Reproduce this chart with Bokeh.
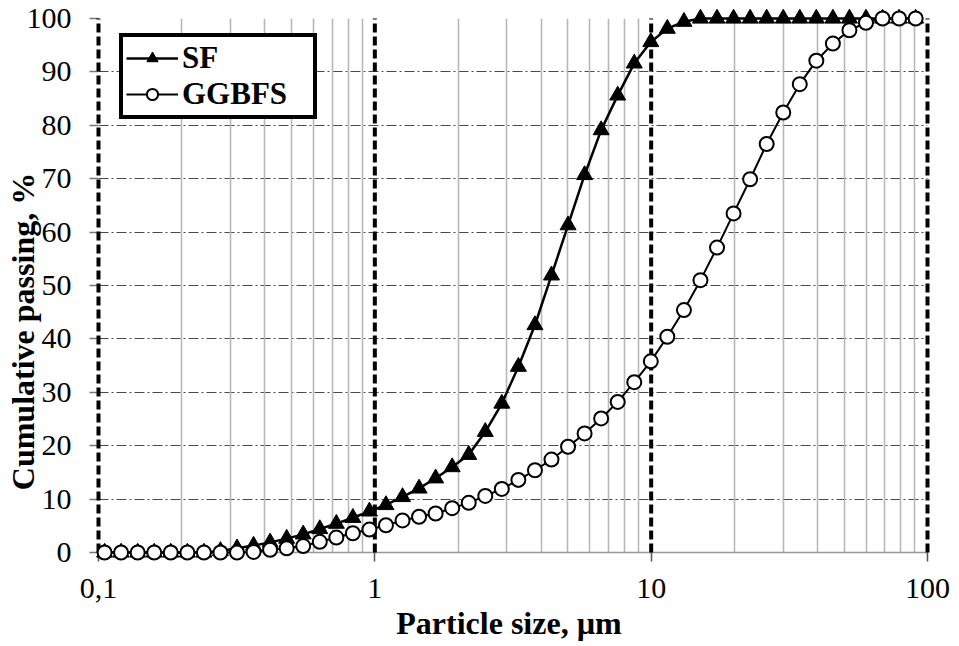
import math
from bokeh.plotting import figure
from bokeh.models import (FixedTicker, CustomJSTickFormatter, Legend, LegendItem, Range1d)
from bokeh.core.properties import value
from bokeh.embed import file_html
from bokeh.resources import INLINE

# Particle size (µm)
size_um = [0.1052, 0.1207, 0.1386, 0.1591, 0.1826, 0.2097, 0.2407, 0.2763, 0.3171, 0.3640,
           0.4178, 0.4797, 0.5506, 0.6321, 0.7256, 0.8327, 0.9559, 1.0972, 1.2595, 1.4457,
           1.6596, 1.905, 2.1867, 2.510, 2.881, 3.307, 3.797, 4.358, 5.003, 5.742,
           6.592, 7.567, 8.686, 9.970, 11.44, 13.14, 15.08, 17.31, 19.87, 22.81,
           26.18, 30.06, 34.50, 39.60, 45.46, 52.18, 59.90, 68.76, 78.93, 90.60]

# Cumulative passing (%)
sf_passing = [0, 0, 0, 0, 0, 0, 0, 0.3, 0.8, 1.3,
              1.9, 2.6, 3.4, 4.4, 5.4, 6.5, 7.7, 8.9, 10.4, 12.0,
              13.9, 16.0, 18.3, 22.6, 27.9, 34.8, 42.6, 51.9, 61.3, 70.7,
              79.1, 85.6, 91.6, 95.6, 98.1, 99.4, 100, 100, 100, 100,
              100, 100, 100, 100, 100, 100, 100, 100, 100, 100]

ggbfs_passing = [0, 0, 0, 0, 0, 0, 0, 0, 0, 0.1,
                 0.5, 0.8, 1.2, 2.0, 2.8, 3.6, 4.3, 5.1, 6.0, 6.7,
                 7.3, 8.3, 9.3, 10.6, 11.9, 13.6, 15.4, 17.4, 19.8, 22.3,
                 25.1, 28.2, 31.9, 35.8, 40.4, 45.4, 51.0, 57.1, 63.5, 69.9,
                 76.5, 82.4, 87.7, 92.1, 95.3, 97.8, 99.2, 100, 100, 100]

x_major_ticks = [0.1, 1, 10, 100]
x_minor_ticks = [0.2, 0.3, 0.4, 0.5, 0.6, 0.7, 0.8, 0.9,
                 2, 3, 4, 5, 6, 7, 8, 9,
                 20, 30, 40, 50, 60, 70, 80, 90]
y_ticks = [0, 10, 20, 30, 40, 50, 60, 70, 80, 90, 100]

x_title = "Particle size, µm"
y_title = "Cumulative passing, %"

SERIF = "Liberation Serif"

x_lo, x_hi = x_major_ticks[0], x_major_ticks[-1]
y_lo, y_hi = y_ticks[0], y_ticks[-1]

p = figure(width=959, height=646, x_axis_type="log",
           x_range=Range1d(x_lo, x_hi), y_range=Range1d(y_lo, y_hi),
           output_backend="svg", toolbar_location=None,
           min_border_left=98, min_border_right=32, min_border_top=18, min_border_bottom=94)
p.outline_line_color = None
p.background_fill_color = "white"
p.border_fill_color = "white"

xticker = FixedTicker(ticks=x_major_ticks, minor_ticks=x_minor_ticks)
yticker = FixedTicker(ticks=y_ticks)

# grids
p.xgrid.ticker = xticker
p.xgrid.grid_line_color = None
p.xgrid.minor_grid_line_color = "#b8b8b8"
p.xgrid.minor_grid_line_width = 1.6

p.ygrid.ticker = yticker
p.ygrid.grid_line_color = "#4a4a4a"
p.ygrid.grid_line_width = 1
p.ygrid.grid_line_dash = "10 3 2 3"

xg = p.xgrid[0]
yg = p.ygrid[0]
p.center = [yg, xg] + [r for r in p.center if r not in (xg, yg)]

# thick dashed lines at each decade (drawn below the series)
p.segment(x0=x_major_ticks, x1=x_major_ticks,
          y0=[y_lo] * len(x_major_ticks), y1=[y_hi] * len(x_major_ticks),
          line_color="black", line_width=4, line_dash="9 4", level="overlay")

# x axis
xa = p.xaxis[0]
xa.ticker = xticker
xa.formatter = CustomJSTickFormatter(code="return tick.toString().replace('.', ',');")
xa.minor_tick_line_color = None
xa.major_tick_in = 0
xa.major_tick_out = 9
xa.major_tick_line_color = "#555555"
xa.major_tick_line_width = 1.5
xa.axis_line_color = "#999999"
xa.axis_line_width = 1.5
xa.major_label_text_font = SERIF
xa.major_label_text_font_size = "30px"
xa.major_label_text_color = "black"
xa.major_label_standoff = 17

# y axis
ya = p.yaxis[0]
ya.ticker = yticker
ya.minor_tick_line_color = None
ya.major_tick_in = 0
ya.major_tick_out = 9
ya.major_tick_line_color = "#777777"
ya.major_tick_line_width = 1.5
ya.axis_line_color = None
ya.major_label_text_font = SERIF
ya.major_label_text_font_size = "30px"
ya.major_label_text_color = "black"
ya.major_label_standoff = 18

# axis titles (text glyphs anchored to the frame; the y title sits below centre)
x_mid = 10 ** ((math.log10(x_lo) + math.log10(x_hi)) / 2)
y_mid = (y_lo + y_hi) / 2
p.text(x=[x_mid], y=[y_lo], text=[x_title], x_offset=-4, y_offset=70,
       text_align="center", text_baseline="middle",
       text_font=value(SERIF), text_font_style="bold", text_font_size="32px",
       text_color="black", level="overlay")
p.text(x=[x_lo], y=[y_mid], text=[y_title], x_offset=-76, y_offset=46,
       angle=math.pi / 2, text_align="center", text_baseline="middle",
       text_font=value(SERIF), text_font_style="bold", text_font_size="32px",
       text_color="black", level="overlay")

# series
sf_line = p.line(size_um, sf_passing, line_color="black", line_width=2.5, level="overlay")
sf_pts = p.scatter(size_um, sf_passing, marker="triangle", size=16,
                   fill_color="black", line_color="black", line_width=1, level="overlay")
gg_line = p.line(size_um, ggbfs_passing, line_color="black", line_width=2, level="overlay")
gg_pts = p.scatter(size_um, ggbfs_passing, marker="circle", size=14,
                   fill_color="white", line_color="black", line_width=2, level="overlay")

legend = Legend(items=[LegendItem(label="SF", renderers=[sf_line, sf_pts]),
                       LegendItem(label="GGBFS", renderers=[gg_line, gg_pts])],
                location=(21, 433))
legend.glyph_width = 52
legend.glyph_height = 28
legend.label_standoff = 4
legend.label_width = 128
legend.label_text_font = SERIF
legend.label_text_font_style = "bold"
legend.label_text_font_size = "31px"
legend.label_text_color = "black"
legend.border_line_color = "black"
legend.border_line_alpha = 1
legend.border_line_width = 4
legend.background_fill_color = "white"
legend.background_fill_alpha = 1
legend.padding = 3
legend.spacing = 0
legend.margin = 0
p.add_layout(legend)

open("out.html", "w").write(file_html(p, INLINE))
